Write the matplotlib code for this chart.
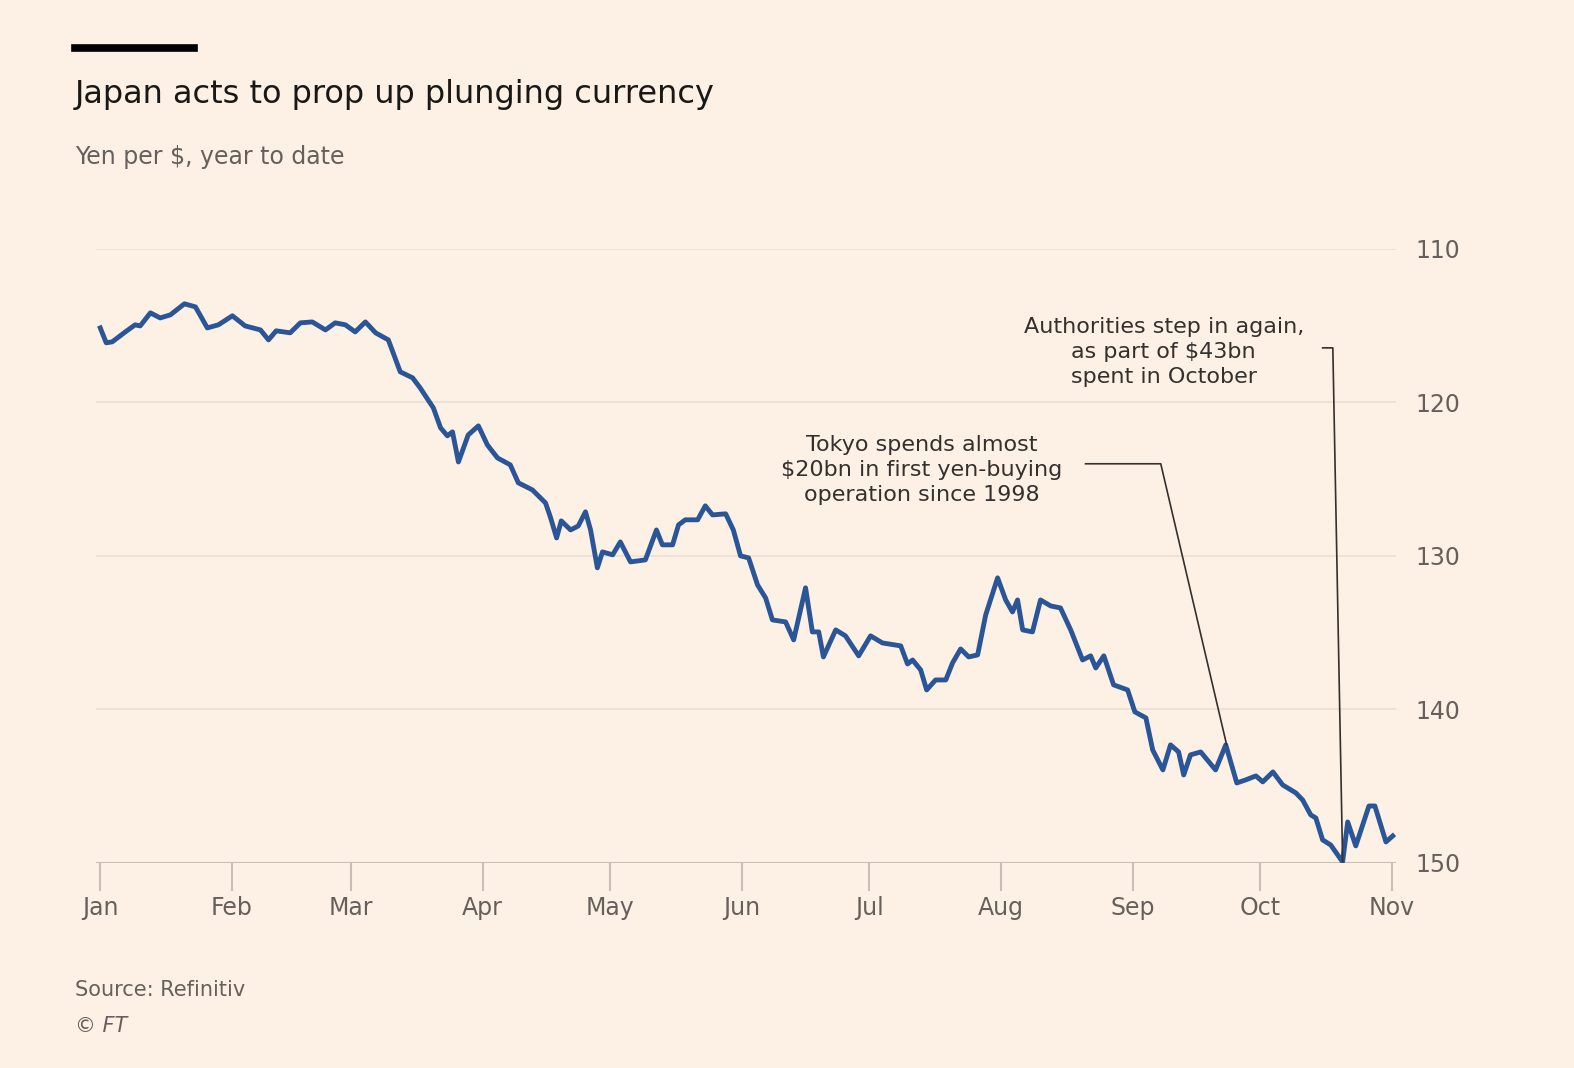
import matplotlib.pyplot as plt
from matplotlib.lines import Line2D

# days since 1 Jan 2022, yen per dollar
days = [0, 1.4, 2.8, 5.9, 8.2, 9.4, 11.8, 14.1, 16.5, 19.8, 22.4, 25.2, 27.8, 31.1, 34.1,
        37.7, 39.6, 41.4, 44.7, 47.1, 49.9, 53.0, 55.3, 57.7, 60.0, 62.4, 64.8, 67.8, 70.6,
        73.5, 75.3, 78.4, 80.1, 81.7, 82.9, 84.3, 86.6, 89.0, 91.1, 93.5, 96.5, 98.4, 101.7,
        104.8, 106.0, 107.4, 108.5, 110.7, 112.5, 114.2, 115.4, 117.0, 118.2, 120.6, 122.4,
        124.8, 128.3, 130.9, 132.3, 134.7, 136.1, 137.7, 140.6, 142.4, 144.1, 147.2, 149.0,
        150.7, 152.6, 154.7, 156.6, 158.2, 161.3, 163.2, 166.0, 167.6, 169.1, 170.2, 173.1,
        175.4, 178.5, 181.3, 184.1, 188.4, 190.0, 191.2, 193.1, 194.5, 196.6, 199.0, 200.6,
        202.5, 204.4, 206.5, 208.4, 211.2, 213.1, 214.7, 215.9, 217.1, 219.4, 221.3, 223.7,
        226.0, 228.4, 231.2, 233.1, 234.3, 236.2, 238.5, 241.8, 243.5, 246.1, 247.7, 250.1,
        251.9, 253.8, 255.0, 256.6, 259.0, 262.5, 264.9, 267.5, 269.6, 272.0, 273.6, 276.0,
        278.3, 281.4, 283.0, 284.9, 286.1, 287.7, 289.6, 292.4, 293.6, 295.5, 298.6, 300.0,
        302.6, 304.2]
yen = [115.15, 116.12, 116.06, 115.41, 114.95, 115.02, 114.17, 114.50, 114.30, 113.58, 113.78,
       115.15, 114.95, 114.36, 115.02, 115.28, 115.93, 115.34, 115.47, 114.82, 114.76, 115.28,
       114.82, 114.95, 115.41, 114.76, 115.47, 115.93, 118.01, 118.40, 119.06, 120.36, 121.66,
       122.18, 121.92, 123.88, 122.12, 121.53, 122.77, 123.62, 124.07, 125.24, 125.70, 126.55,
       127.52, 128.83, 127.72, 128.31, 128.05, 127.13, 128.31, 130.78, 129.74, 129.93, 129.09,
       130.39, 130.26, 128.31, 129.28, 129.28, 127.98, 127.65, 127.65, 126.74, 127.33, 127.26,
       128.31, 130.00, 130.13, 131.89, 132.74, 134.17, 134.30, 135.47, 132.08, 134.95, 134.95,
       136.58, 134.82, 135.21, 136.51, 135.21, 135.67, 135.86, 137.04, 136.78, 137.43, 138.73,
       138.08, 138.08, 136.97, 136.06, 136.58, 136.45, 133.84, 131.43, 132.87, 133.65, 132.87,
       134.82, 134.95, 132.87, 133.26, 133.39, 134.82, 136.78, 136.51, 137.30, 136.51, 138.40,
       138.73, 140.16, 140.55, 142.64, 143.94, 142.31, 142.77, 144.27, 142.96, 142.77, 143.94,
       142.31, 144.79, 144.59, 144.33, 144.72, 144.07, 144.92, 145.44, 145.90, 146.87, 147.07,
       148.50, 148.83, 149.93, 147.33, 148.89, 146.29, 146.29, 148.63, 148.24]

month_days = [0, 31, 59, 90, 120, 151, 181, 212, 243, 273, 304]
month_labels = ['Jan', 'Feb', 'Mar', 'Apr', 'May', 'Jun', 'Jul', 'Aug', 'Sep', 'Oct', 'Nov']
y_ticks = [110, 120, 130, 140, 150]

bg = '#fdf1e5'
grey = '#66605c'
fig = plt.figure(figsize=(15.74, 10.68), dpi=100, facecolor=bg)
ax = fig.add_axes([0.061, 0.192, 0.826, 0.575], facecolor=bg)

for v in y_ticks[:-1]:
    ax.axhline(v, color='#ebe0d5', lw=1.2, zorder=0)
ax.axhline(150, color='#c9bfb6', lw=1.5, zorder=1)
ax.plot(days, yen, color='#2a5597', lw=3.5, solid_joinstyle='round', zorder=3)

ax.set_xlim(-1, 305)
ax.set_ylim(150, 110)
for s in ax.spines.values():
    s.set_visible(False)
ax.set_xticks(month_days)
ax.set_xticklabels(month_labels, fontsize=17, color=grey)
ax.tick_params(axis='x', length=22, width=1.5, color='#c9bfb6', pad=4, direction='in')
for t in ax.xaxis.get_major_ticks():
    t.tick1line.set_marker(3)  # tick going down
ax.tick_params(axis='x', direction='out', length=20)
ax.yaxis.tick_right()
ax.set_yticks(y_ticks)
ax.set_yticklabels([str(v) for v in y_ticks], fontsize=17, color=grey)
ax.tick_params(axis='y', length=0, pad=14)

# annotations
ax.text(193.3, 124.4, 'Tokyo spends almost\n$20bn in first yen-buying\noperation since 1998',
        ha='center', va='center', fontsize=16, color='#33302e', linespacing=1.3)
ax.plot([231.9, 249.6, 265.1], [124.0, 124.0, 142.3], color='#33302e', lw=1.2, zorder=4)
ax.text(250.3, 116.7, 'Authorities step in again,\nas part of $43bn\nspent in October',
        ha='center', va='center', fontsize=16, color='#33302e', linespacing=1.3)
ax.plot([287.7, 290.1, 292.4], [116.45, 116.45, 149.9], color='#33302e', lw=1.2, zorder=4)

# header and footer
fig.add_artist(Line2D([75 / 1574, 194 / 1574], [1 - 48 / 1068] * 2, color='black', lw=5.5))
fig.text(75 / 1574, 1 - 95 / 1068, 'Japan acts to prop up plunging currency',
         fontsize=23, color='#1a1817', va='center')
fig.text(75 / 1574, 1 - 157 / 1068, 'Yen per $, year to date', fontsize=17, color=grey, va='center')
fig.text(75 / 1574, 1 - 990 / 1068, 'Source: Refinitiv', fontsize=15, color=grey, va='center')
fig.text(75 / 1574, 1 - 1026 / 1068, '© FT', fontsize=15, color=grey, va='center', style='italic')

fig.savefig('out.png', dpi=100, facecolor=bg)
